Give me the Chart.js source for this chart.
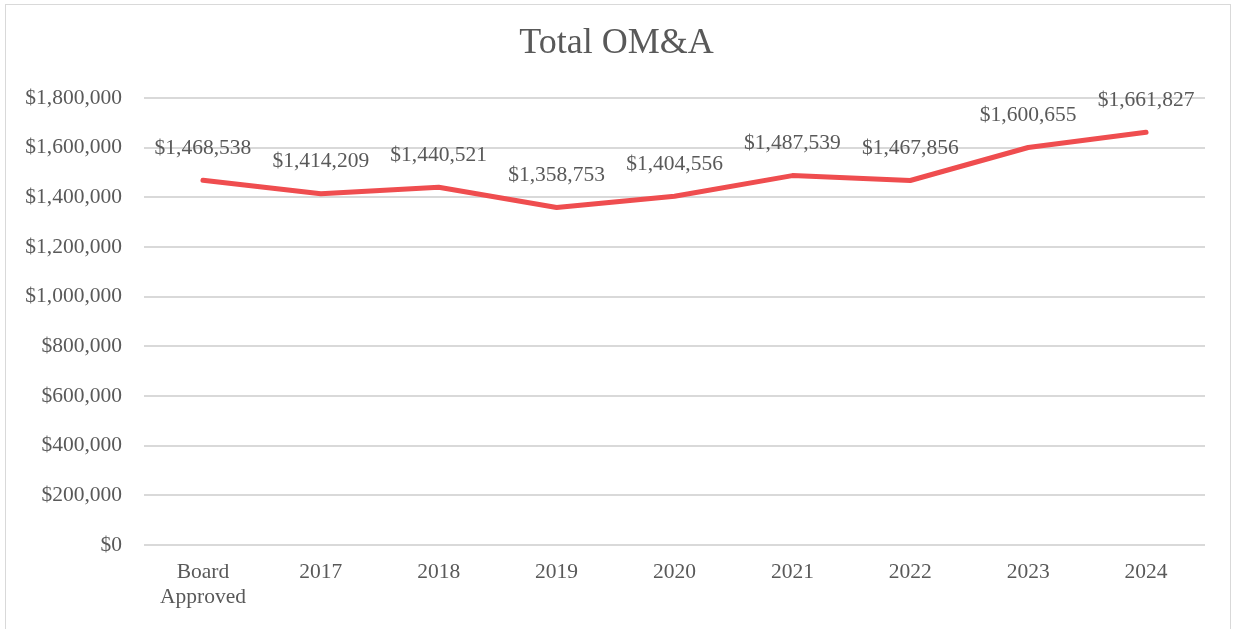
<!DOCTYPE html>
<html>
<head>
<meta charset="utf-8">
<script src="https://cdn.jsdelivr.net/npm/chart.js@4"></script>
<style>
  html, body { margin: 0; padding: 0; background: #fff; }
  #frame { position: absolute; left: 5px; top: 4px; width: 1224px; height: 640px; border: 1px solid #d9d9d9; }
  #c { position: absolute; left: 0; top: 0; }
</style>
</head>
<body>
<div id="frame"></div>
<canvas id="c" width="1233" height="629"></canvas>
<script>
const chartTitle = 'Total OM&A';
const categories = [["Board", "Approved"], "2017", "2018", "2019", "2020", "2021", "2022", "2023", "2024"];
const totalOMA = [1468538, 1414209, 1440521, 1358753, 1404556, 1487539, 1467856, 1600655, 1661827];
const yTicks = [0, 200000, 400000, 600000, 800000, 1000000, 1200000, 1400000, 1600000, 1800000];

const FONT = '"Liberation Serif", "Times New Roman", serif';
const TEXT = '#595959';
const fmt = v => '$' + v.toLocaleString('en-US');

const labelPlugin = {
  id: 'valueLabels',
  afterDatasetsDraw(chart) {
    const ctx = chart.ctx;
    const meta = chart.getDatasetMeta(0);
    ctx.save();
    ctx.font = '21.5px ' + FONT;
    ctx.fillStyle = TEXT;
    ctx.textAlign = 'center';
    ctx.textBaseline = 'middle';
    meta.data.forEach((pt, i) => {
      ctx.fillText(fmt(chart.data.datasets[0].data[i]), pt.x, pt.y - 32);
    });
    // title centred on the whole canvas
    ctx.font = '36px ' + FONT;
    ctx.fillText(chartTitle, chart.width / 2, 44);
    ctx.restore();
  }
};

new Chart(document.getElementById('c'), {
  type: 'line',
  data: {
    labels: categories,
    datasets: [{
      label: chartTitle,
      data: totalOMA,
      borderColor: '#ef4d4f',
      borderWidth: 5,
      pointRadius: 0,
      tension: 0,
      fill: false,
      borderCapStyle: 'round',
      borderJoinStyle: 'round'
    }]
  },
  options: {
    responsive: false,
    animation: false,
    layout: { padding: { top: 98, left: 0, right: 28, bottom: 0 } },
    plugins: {
      legend: { display: false },
      tooltip: { enabled: false },
      title: { display: false }
    },
    scales: {
      x: {
        offset: true,
        grid: { display: false, drawTicks: false },
        border: { display: false },
        ticks: { color: TEXT, font: { family: FONT, size: 21.5 }, padding: 14, maxRotation: 0, autoSkip: false },
        afterFit(s) { s.height = 84; }
      },
      y: {
        min: 0,
        max: 1800000,
        afterBuildTicks(s) { s.ticks = yTicks.map(v => ({ value: v })); },
        grid: { color: '#d9d9d9', lineWidth: 2, drawTicks: false },
        border: { display: false },
        ticks: { color: TEXT, font: { family: FONT, size: 21.5 }, padding: 22, callback: v => fmt(v) },
        afterFit(s) { s.width = 144; }
      }
    }
  },
  plugins: [labelPlugin]
});
</script>
</body>
</html>
